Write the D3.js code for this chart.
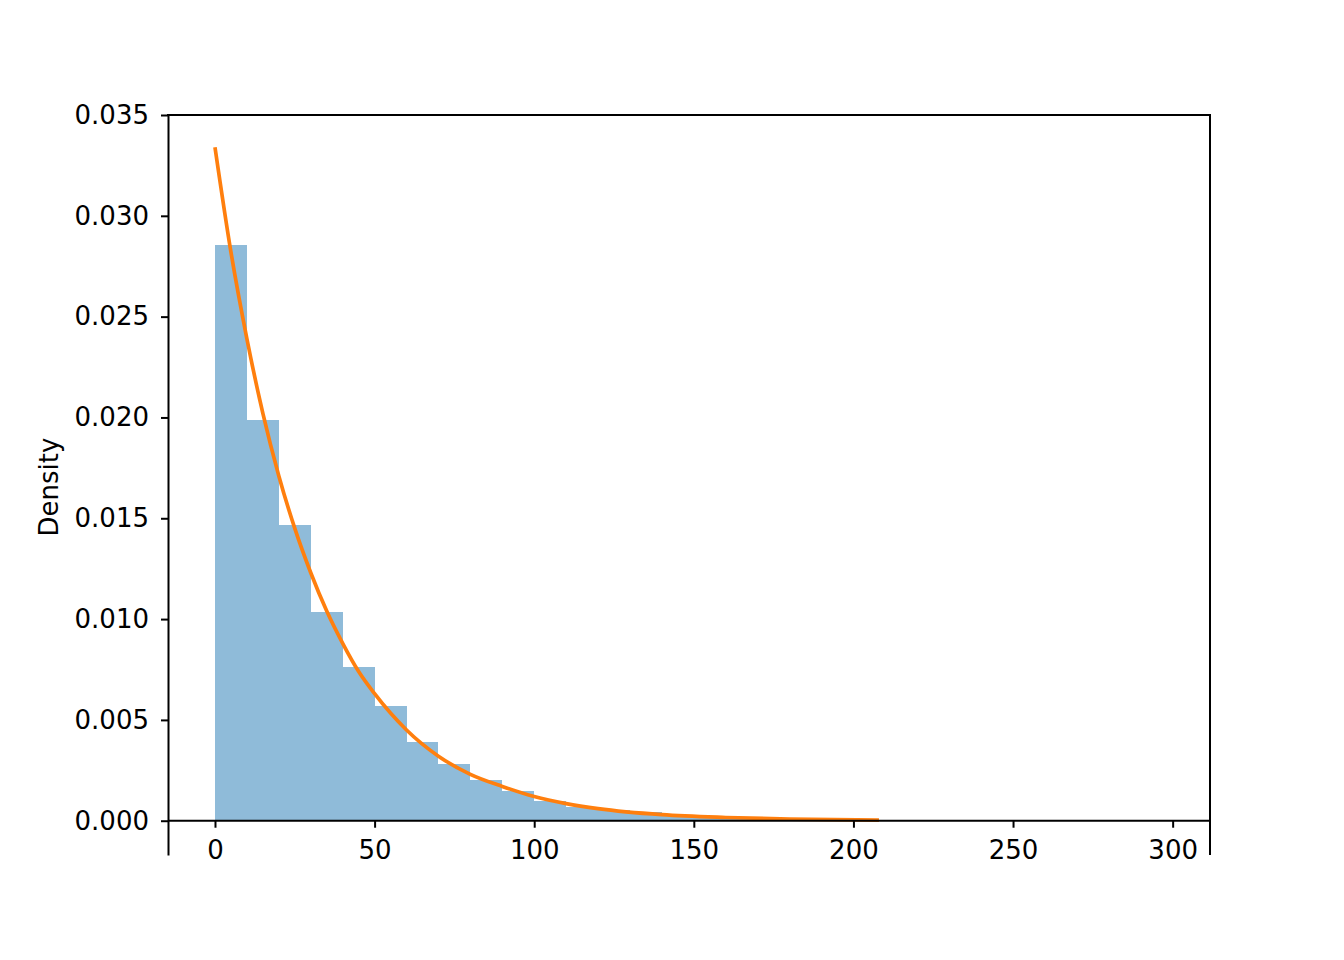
<!DOCTYPE html>
<html>
<head>
<meta charset="utf-8">
<script src="https://cdn.jsdelivr.net/npm/d3@7"></script>
<style>
  body { margin: 0; background: #fff; }
  svg text { font-family: "DejaVu Sans", sans-serif; fill: #000; }
</style>
</head>
<body>
<div id="graph"></div>
<script>
// histogram bins (left edges, width 10) and densities
const binStarts = [0, 10, 20, 30, 40, 50, 60, 70, 80, 90, 100, 110, 120, 130, 140, 150, 160, 170, 180, 190, 200]
const binDensity = [0.02856, 0.01988, 0.01467, 0.01036, 0.00763, 0.00570, 0.00388, 0.00283, 0.00200, 0.00149,
  0.00096, 0.00070, 0.00052, 0.00041, 0.00027, 0.00019, 0.00013, 0.00009, 0.00006, 0.00004, 0.00002]
const binWidth = 10

// fitted density curve
const curveX = [0, 5, 10, 15, 20, 25, 30, 35, 40, 45, 50, 60, 70, 80, 90, 100, 110, 120, 140, 160, 180, 208]
const curveY = [0.0334, 0.0282, 0.0239, 0.0202, 0.0171, 0.0145, 0.0123, 0.0104, 0.0088, 0.0074, 0.0063,
  0.0045, 0.0032, 0.0023, 0.0017, 0.0012, 0.00085, 0.0006, 0.0003, 0.00016, 0.00008, 0.00003]

const xTicks = [0, 50, 100, 150, 200, 250, 300]
const yTicks = [0, 0.005, 0.010, 0.015, 0.020, 0.025, 0.030, 0.035]

const width = 1344
const height = 960
const plotLeft = 168
const plotRight = 1210
const plotTop = 115
const plotBottom = 855
const fontSize = 26

const svg = d3.select('#graph')
  .append('svg')
  .attr('width', width)
  .attr('height', height)

const x = d3.scaleLinear().domain([-14.72, 311.7]).range([plotLeft, plotRight])
const y = d3.scaleLinear().domain([-0.0017, 0.035]).range([plotBottom, plotTop])

// bars
svg.append('g')
  .selectAll('rect')
  .data(binStarts)
  .join('rect')
  .attr('x', d => x(d))
  .attr('width', d => x(d + binWidth) - x(d))
  .attr('y', (d, i) => y(binDensity[i]))
  .attr('height', (d, i) => y(0) - y(binDensity[i]))
  .attr('fill', '#1f77b4')
  .attr('fill-opacity', 0.5)
  .attr('shape-rendering', 'crispEdges')

// density line
const line = d3.line()
  .x(d => x(d[0]))
  .y(d => y(d[1]))
  .curve(d3.curveMonotoneX)

svg.append('path')
  .datum(curveX.map((v, i) => [v, curveY[i]]))
  .attr('d', line)
  .attr('fill', 'none')
  .attr('stroke', '#ff7f0e')
  .attr('stroke-width', 3.7)

// x axis sits at y = 0
const xAxis = svg.append('g')
  .attr('transform', `translate(0,${y(0)})`)
  .call(d3.axisBottom(x).tickValues(xTicks).tickFormat(d3.format('d')).tickSizeInner(7).tickSizeOuter(0).tickPadding(13))
xAxis.select('.domain').attr('stroke-width', 2).attr('d', `M${plotLeft},0H${plotRight}`)
xAxis.selectAll('.tick line').attr('stroke-width', 2)
xAxis.selectAll('.tick text').attr('font-size', fontSize).attr('fill', '#000')

// y axis
const yAxis = svg.append('g')
  .attr('transform', `translate(${plotLeft},0)`)
  .call(d3.axisLeft(y).tickValues(yTicks).tickFormat(d3.format('.3f')).tickSizeInner(7).tickSizeOuter(0).tickPadding(12))
yAxis.select('.domain').attr('stroke-width', 2)
yAxis.selectAll('.tick line').attr('stroke-width', 2)
yAxis.selectAll('.tick text').attr('font-size', fontSize).attr('fill', '#000')

// right and top spines
svg.append('line')
  .attr('x1', plotRight).attr('x2', plotRight)
  .attr('y1', plotTop).attr('y2', plotBottom)
  .attr('stroke', '#000').attr('stroke-width', 2)
svg.append('line')
  .attr('x1', plotLeft - 1).attr('x2', plotRight + 1)
  .attr('y1', plotTop).attr('y2', plotTop)
  .attr('stroke', '#000').attr('stroke-width', 2)

// y label
svg.append('text')
  .attr('transform', `translate(58,487) rotate(-90)`)
  .attr('text-anchor', 'middle')
  .attr('font-size', fontSize)
  .text('Density')
</script>
</body>
</html>
